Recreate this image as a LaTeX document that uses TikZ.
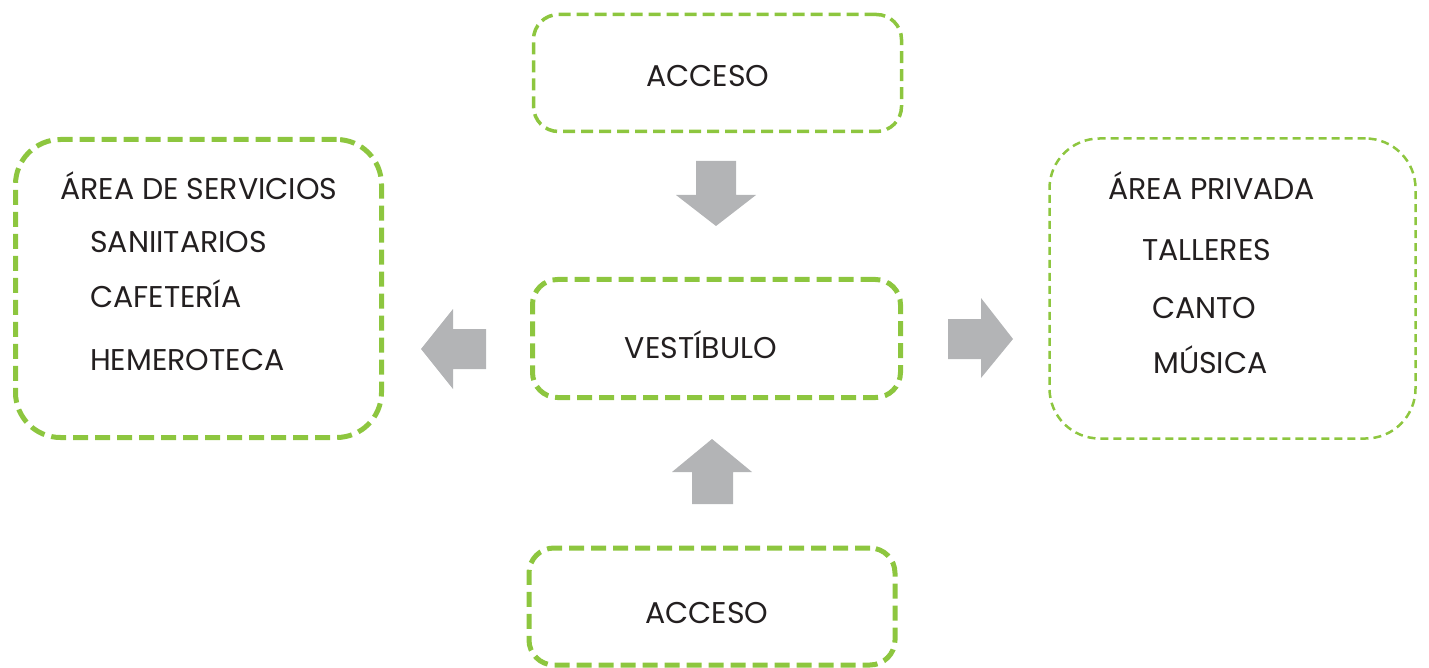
\documentclass[tikz,border=0pt]{standalone}
\usepackage{fontspec}
\setmainfont{Poppins}
\definecolor{boxgreen}{HTML}{8DC63F}
\definecolor{arrowgray}{HTML}{B3B4B6}
\definecolor{txtgray}{HTML}{231F20}
\begin{document}
\begin{tikzpicture}[x=1pt,y=-1pt,
  box/.style={draw=boxgreen, rectangle, rounded corners=25pt, dash pattern=on 12pt off 6pt, line width=3.5pt, inner sep=0pt},
  thickbox/.style={box, dash pattern=on 15pt off 7pt, line width=5pt},
  thinbox/.style={box, dash pattern=on 8pt off 5pt, line width=2.5pt},
  lbl/.style={text=txtgray, font=\fontsize{30}{36}\selectfont, inner sep=0pt, anchor=base west},
  clbl/.style={lbl, anchor=base},
  blockarrow/.style={fill=arrowgray, draw=none}]
\useasboundingbox (0,0) rectangle (1429,668);
% boxes
\node[box, minimum width=368pt, minimum height=117pt] (acc1) at (717.5,73) {};
\node[thickbox, rounded corners=45pt, minimum width=366pt, minimum height=298pt] (serv) at (198.5,288.5) {};
\node[thinbox, rounded corners=50pt, minimum width=366pt, minimum height=300pt] (priv) at (1232.5,288.5) {};
\node[thickbox, minimum width=368pt, minimum height=118pt] (vest) at (716.5,338.5) {};
\node[thickbox, minimum width=366pt, minimum height=117pt] (acc2) at (712,606.5) {};
% texts
\node[clbl] (tacc1) at (708,87) {ACCESO};
\node[clbl] (tvest) at (701,358) {VESTÍBULO};
\node[clbl] (tacc2) at (707,623) {ACCESO};
\node[lbl] (tserv) at (60,200) {ÁREA DE SERVICIOS};
\node[lbl] (tsan) at (90,253) {SANIITARIOS};
\node[lbl] (tcaf) at (90,308) {CAFETERÍA};
\node[lbl] (theme) at (90,370) {HEMEROTECA};
\node[lbl] (tpriv) at (1108,200) {ÁREA PRIVADA};
\node[lbl] (ttall) at (1142,261) {TALLERES};
\node[lbl] (tcanto) at (1152,318) {CANTO};
\node[lbl] (tmus) at (1153,373) {MÚSICA};
% block arrows
\fill[blockarrow] (696,161) -- (736,161) -- (736,195) -- (756,195) -- (716,226) -- (676,195) -- (696,195) -- cycle;
\fill[blockarrow] (692,504) -- (733,504) -- (733,472) -- (752,472) -- (712,439) -- (672,472) -- (692,472) -- cycle;
\fill[blockarrow] (486,329) -- (486,369) -- (453,369) -- (453,389) -- (421,349) -- (453,309) -- (453,329) -- cycle;
\fill[blockarrow] (948,319) -- (981,319) -- (981,298) -- (1013,339) -- (981,378) -- (981,359) -- (948,359) -- cycle;
\end{tikzpicture}
\end{document}
